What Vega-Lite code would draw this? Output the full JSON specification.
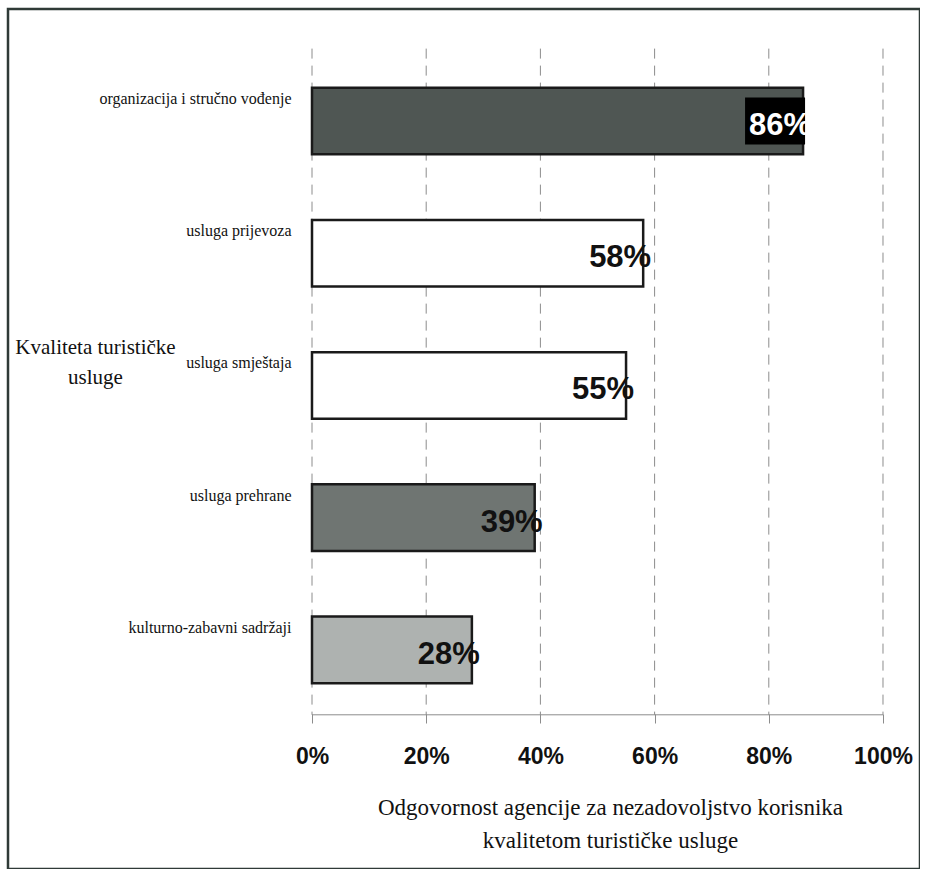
{
  "$schema": "https://vega.github.io/schema/vega-lite/v6.json",
  "width": 912,
  "height": 860,
  "autosize": {"type": "none"},
  "padding": {"left": 8, "top": 9, "right": 0, "bottom": 0},
  "background": "white",
  "config": {
    "view": {"stroke": "#2f3a37", "strokeWidth": 2.5},
    "axis": {"grid": false}
  },
  "datasets": {
    "bars": [
      {"cat": "organizacija i stručno vođenje", "val": 0.86},
      {"cat": "usluga prijevoza", "val": 0.58},
      {"cat": "usluga smještaja", "val": 0.55},
      {"cat": "usluga prehrane", "val": 0.39},
      {"cat": "kulturno-zabavni sadržaji", "val": 0.28}
    ],
    "gridvals": [{"v": 0}, {"v": 0.2}, {"v": 0.4}, {"v": 0.6}, {"v": 0.8}, {"v": 1}]
  },
  "layer": [
    {
      "data": {"name": "gridvals"},
      "mark": {"type": "rule", "color": "#8c8c8c", "strokeWidth": 1, "strokeDash": [10, 7]},
      "encoding": {
        "x": {
          "field": "v", "type": "quantitative",
          "scale": {"domain": [-0.5324, 1.0648], "nice": false, "zero": false},
          "axis": {
            "values": [0, 0.2, 0.4, 0.6, 0.8, 1], "format": "%", "orient": "bottom", "offset": -155,
            "domain": false, "ticks": true, "tickSize": 9, "tickColor": "#8c8c8c", "tickWidth": 1,
            "labelFont": "Liberation Sans", "labelFontWeight": "bold",
            "labelFontSize": 23, "labelColor": "#111", "labelPadding": 22, "labelFlush": false, "labelOverlap": false,
            "title": ["Odgovornost agencije za nezadovoljstvo korisnika", "kvalitetom turističke usluge"],
            "titleFont": "Liberation Serif", "titleFontSize": 23, "titleFontWeight": "normal", "titleColor": "#111",
            "titleX": 602, "titleY": 100, "titleAlign": "center", "titleBaseline": "alphabetic", "titleLineHeight": 33
          }
        },
        "y": {
          "datum": "organizacija i stručno vođenje", "type": "nominal", "bandPosition": -0.586,
          "scale": {"domain": ["organizacija i stručno vođenje", "usluga prijevoza", "usluga smještaja", "usluga prehrane", "kulturno-zabavni sadržaji"], "paddingInner": 0.496, "paddingOuter": 1.0057, "align": 0.2975},
          "axis": {
            "orient": "left", "offset": -283, "domain": false, "ticks": false, "tickSize": 0,
            "labelPadding": 0, "labelFont": "Liberation Serif", "labelFontSize": 16, "labelColor": "#111",
            "labelOffset": -22, "labelLimit": 300, "labelAlign": "right", "labelBaseline": "middle",
            "title": ["Kvaliteta turističke", "usluge"], "titleAngle": 0, "titleX": -196, "titleY": 344,
            "titleAlign": "center", "titleBaseline": "alphabetic", "titleFont": "Liberation Serif",
            "titleFontSize": 21, "titleFontWeight": "normal", "titleLineHeight": 30, "titleColor": "#111"
          }
        },
        "y2": {"datum": "kulturno-zabavni sadržaji", "bandPosition": 1.474}
      }
    },
    {
      "data": {"values": [{}]},
      "mark": {"type": "rule", "color": "#8c8c8c", "strokeWidth": 1},
      "encoding": {
        "x": {"datum": 0, "type": "quantitative"},
        "x2": {"datum": 1},
        "y": {"datum": "kulturno-zabavni sadržaji", "type": "nominal", "bandPosition": 1.474}
      }
    },
    {
      "data": {"name": "bars"},
      "mark": {"type": "bar", "stroke": "#1a1a1a", "strokeWidth": 2.5},
      "encoding": {
        "y": {"field": "cat", "type": "nominal", "sort": null},
        "x": {"field": "val", "type": "quantitative"},
        "x2": {"datum": 0},
        "color": {
          "field": "cat", "type": "nominal", "legend": null,
          "scale": {"domain": ["organizacija i stručno vođenje", "usluga prijevoza", "usluga smještaja", "usluga prehrane", "kulturno-zabavni sadržaji"],
                    "range": ["#4f5653", "#ffffff", "#ffffff", "#6f7572", "#aeb2b0"]}
        }
      }
    },
    {
      "data": {"name": "bars"},
      "transform": [{"filter": "datum.cat === 'organizacija i stručno vođenje'"}],
      "mark": {"type": "point", "shape": "M-1,-0.78L1,-0.78L1,0.78L-1,0.78Z", "filled": true, "color": "#000000", "opacity": 1, "size": 3600, "xOffset": -28, "strokeWidth": 0},
      "encoding": {
        "x": {"field": "val", "type": "quantitative"},
        "y": {"field": "cat", "type": "nominal", "sort": null}
      }
    },
    {
      "data": {"name": "bars"},
      "mark": {"type": "text", "align": "right", "baseline": "middle", "dx": 8, "dy": 5,
               "font": "Liberation Sans", "fontWeight": "bold", "fontSize": 31},
      "encoding": {
        "x": {"field": "val", "type": "quantitative"},
        "y": {"field": "cat", "type": "nominal", "sort": null},
        "text": {"field": "val", "type": "quantitative", "format": ".0%"},
        "color": {"condition": {"test": "datum.cat === 'organizacija i stručno vođenje'", "value": "#ffffff"}, "value": "#111111"}
      }
    }
  ]
}
